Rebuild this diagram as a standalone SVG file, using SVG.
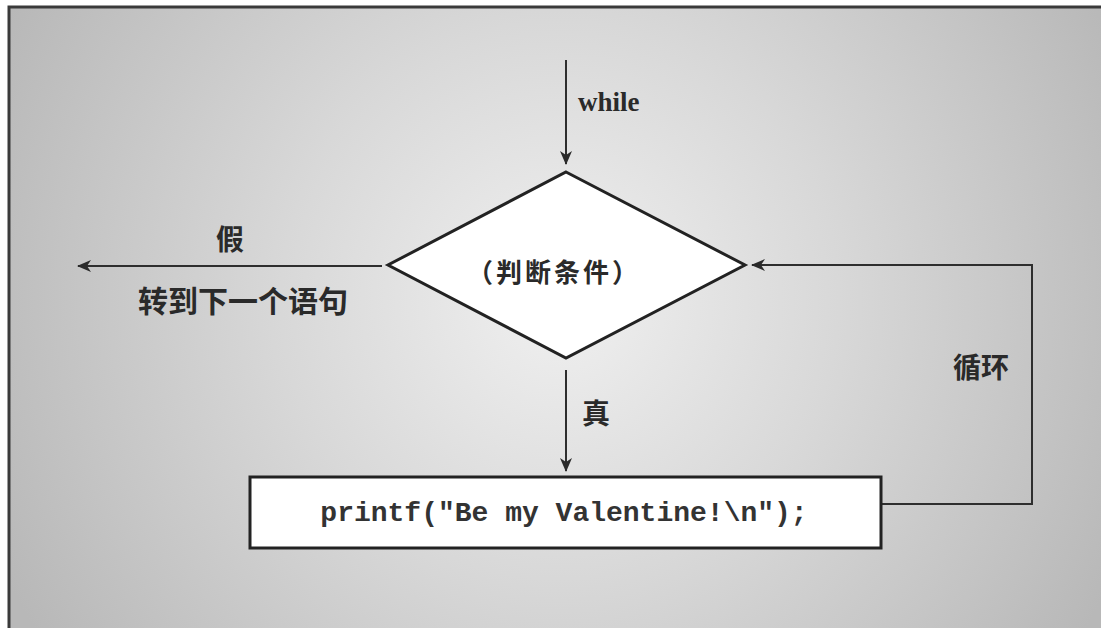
<svg xmlns="http://www.w3.org/2000/svg" width="1101" height="628" viewBox="0 0 1101 628">
<defs>
<radialGradient id="bg" cx="560" cy="300" r="620" gradientUnits="userSpaceOnUse">
<stop offset="0" stop-color="#f0f0f0"/>
<stop offset="0.45" stop-color="#d8d8d8"/>
<stop offset="1" stop-color="#b8b8b8"/>
</radialGradient>
<marker id="ah" viewBox="0 0 14 12" refX="13" refY="6" markerWidth="14" markerHeight="12" markerUnits="userSpaceOnUse" orient="auto">
<path d="M0,0 L14,6 L0,12 L4,6 Z" fill="#2a2a2a"/>
</marker>
</defs>
<style>
.ln{stroke:#2e2e2e;stroke-width:2;fill:none}
.shape{fill:#ffffff;stroke:#222;stroke-width:3}
.cjk{font-family:"Noto Sans CJK SC","Noto Sans",sans-serif;font-weight:700;fill:#2a2a2a}
.lat{font-family:"Liberation Serif",serif;font-weight:700;fill:#2a2a2a}
.code{font-family:"Liberation Mono",monospace;font-weight:700;fill:#333}
</style>
<rect x="0" y="0" width="1101" height="628" fill="#ffffff"/>
<rect x="8" y="6" width="1093" height="622" fill="url(#bg)"/>
<path d="M9,628 L9,7 L1101,7" stroke="#3a3a3a" stroke-width="3" fill="none"/>
<g id="connectors">
<line class="ln" x1="566" y1="60" x2="566" y2="164" marker-end="url(#ah)"/>
<line class="ln" x1="382" y1="266" x2="78" y2="266" marker-end="url(#ah)"/>
<line class="ln" x1="566" y1="370" x2="566" y2="471" marker-end="url(#ah)"/>
<polyline class="ln" points="881,504 1032,504 1032,265 752,265" marker-end="url(#ah)"/>
<text class="lat" x="578" y="111" font-size="27">while</text>
<text class="cjk" x="230" y="250" font-size="28" text-anchor="middle">假</text>
<text class="cjk" x="243" y="312" font-size="30" text-anchor="middle">转到下一个语句</text>
<text class="cjk" x="596" y="424" font-size="28" text-anchor="middle">真</text>
<text class="cjk" x="981" y="378" font-size="28" text-anchor="middle">循环</text>
</g>
<g id="condition">
<polygon class="shape" points="566,172 745,265 566,358 388,265"/>
<text class="cjk" x="554" y="282" font-size="26" letter-spacing="3" text-anchor="middle">（判断条件）</text>
</g>
<g id="printf">
<rect class="shape" x="250" y="477" width="631" height="71"/>
<text class="code" x="564" y="521" font-size="28" text-anchor="middle">printf("Be my Valentine!\n");</text>
</g>
</svg>
